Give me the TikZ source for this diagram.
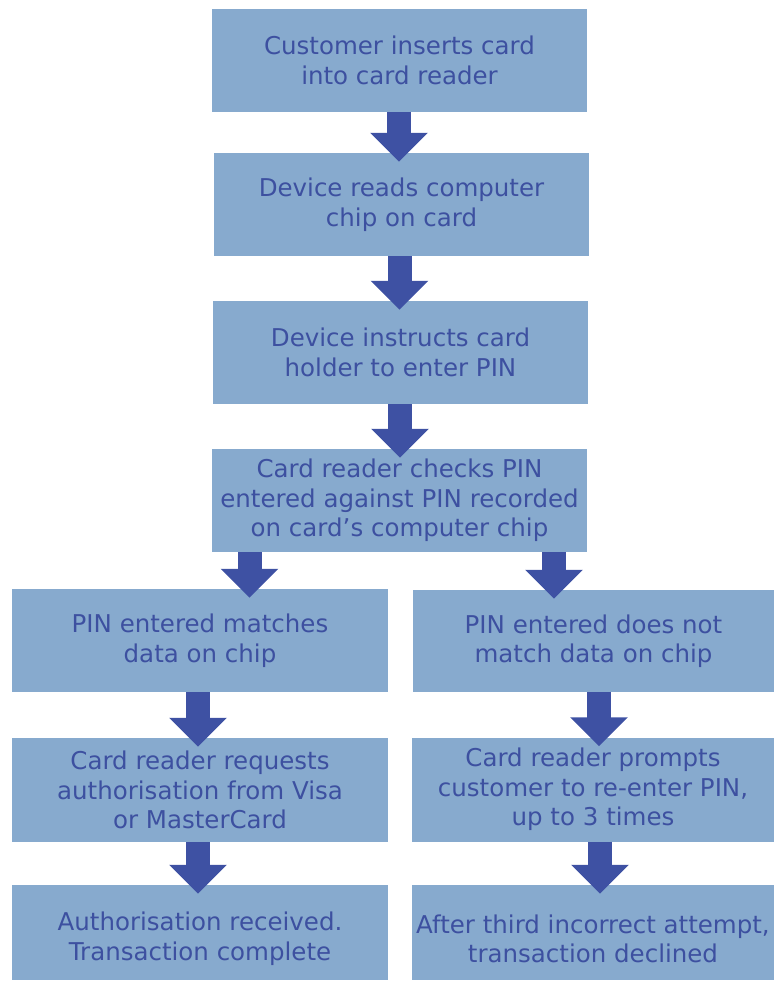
\documentclass[tikz,border=0pt]{standalone}
\usepackage{fontspec}
\setmainfont{DejaVu Sans}
\usetikzlibrary{arrows.meta}
\definecolor{boxfill}{RGB}{135,170,206}
\definecolor{boxtext}{RGB}{61,80,160}
\definecolor{arrowblue}{RGB}{62,81,163}
\newcommand{\lowstrut}{\rule{0pt}{31pt}}
\begin{document}
\begin{tikzpicture}[x=1pt, y=-1pt,
    stage/.style={fill=boxfill, text=boxtext, align=center, inner sep=0pt, font=\fontsize{24.5}{29.5}\selectfont},
    flow/.style={draw=arrowblue, line width=24pt, -{Triangle[width=56pt, length=29pt]}, shorten >=-9pt}]
  \useasboundingbox (0,0) rectangle (775,982);
  \node[stage, minimum width=375pt, minimum height=103pt] (b1) at (399.5,60.5) {Customer inserts card\\into card reader};
  \node[stage, minimum width=375pt, minimum height=103pt] (b2) at (401.5,204.5) {Device reads computer\\chip on card};
  \node[stage, minimum width=375pt, minimum height=103pt] (b3) at (400.5,352.5) {Device instructs card\\holder to enter PIN};
  \node[stage, minimum width=375pt, minimum height=103pt] (b4) at (399.5,500.5) {Card reader checks PIN\\entered against PIN recorded\\on card’s computer chip};
  \node[stage, minimum width=376pt, minimum height=103pt] (l1) at (200,640.5) {PIN entered matches\\data on chip};
  \node[stage, minimum width=376pt, minimum height=104pt] (l2) at (200,790) {Card reader requests\\authorisation from Visa\\or MasterCard};
  \node[stage, minimum width=376pt, minimum height=95pt] (l3) at (200,932.5) {\lowstrut Authorisation received.\\Transaction complete};
  \node[stage, minimum width=361pt, minimum height=102pt] (r1) at (593.5,641) {PIN entered does not\\match data on chip};
  \node[stage, minimum width=362pt, minimum height=104pt] (r2) at (593,789.5) {Card reader prompts\\customer to re-enter PIN,\\up to 3 times};
  \node[stage, minimum width=362pt, minimum height=95pt] (r3) at (593,932.5) {\lowstrut After third incorrect attempt,\\transaction declined};
  \foreach \a/\b/\x in {b1/b2/399, b2/b3/399.5, b3/b4/400, b4/l1/249.5, b4/r1/554, l1/l2/198, l2/l3/198, r1/r2/599, r2/r3/600}
    \draw[flow] (\a.south -| \x,0) -- (\b.north -| \x,0);
\end{tikzpicture}
\end{document}
